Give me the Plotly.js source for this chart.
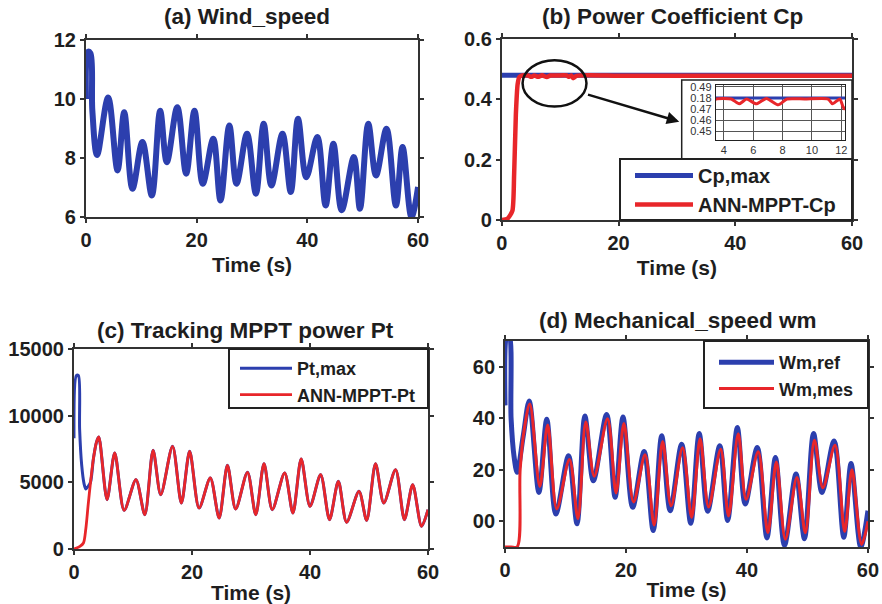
<!DOCTYPE html>
<html>
<head>
<meta charset="utf-8">
<script src="https://cdn.plot.ly/plotly-3.0.1.min.js"></script>
<style>html,body{margin:0;padding:0;background:#fff;}#chart{width:882px;height:604px;}</style>
</head>
<body>
<div id="chart"></div>
<script>
// ---------- (a) Wind speed ----------
const windT = [0, 0.35, 0.8, 1.15, 2.0, 4.0, 5.7, 6.9, 8.4, 10.2, 11.9, 13.4, 14.6, 16.5, 18.1, 19.6, 21.1, 23.0, 24.3, 25.9, 27.2, 29.1, 30.7, 32.1, 33.5, 35.5, 37.0, 38.3, 39.8, 41.8, 43.3, 44.7, 46.2, 48.4, 49.5, 51.0, 52.4, 54.3, 56.0, 57.2, 58.8, 60];
const windV = [10.0, 11.6, 11.55, 9.6, 8.1, 10.05, 7.58, 9.55, 6.96, 8.54, 6.73, 9.6, 7.86, 9.72, 7.47, 9.6, 7.13, 8.65, 6.56, 9.1, 7.13, 8.82, 6.79, 9.16, 7.07, 8.82, 6.85, 9.33, 7.35, 8.71, 6.39, 8.48, 6.23, 8.03, 6.28, 9.16, 7.41, 8.99, 6.39, 8.37, 6.0, 7.02];

// ---------- (b) Power coefficient ----------
const cpMaxT = [0, 60];
const cpMaxV = [0.48, 0.48];
const cpAnnT = [0, 1.0, 1.8, 2.1, 2.4, 2.7, 3.0, 3.46, 4.5, 5.04, 5.55, 6.2, 6.9, 7.7, 8.3, 9.5, 11.1, 11.4, 11.9, 12.2, 12.8, 20, 30, 40, 50, 60];
const cpAnnV = [0, 0.005, 0.03, 0.15, 0.35, 0.45, 0.474, 0.479, 0.479, 0.4747, 0.479, 0.4747, 0.4795, 0.4738, 0.479, 0.479, 0.479, 0.4747, 0.479, 0.4703, 0.478, 0.478, 0.478, 0.478, 0.478, 0.478];
const insetXTicks = [4, 6, 8, 10, 12];
const insetYTicks = [0.45, 0.46, 0.47, 0.48, 0.49];
const insetYText = ['0.45', '0.46', '0.47', '0.18', '0.49'];

// ---------- (c) Tracking MPPT power ----------
const ptAnnT = [0, 1.0, 1.6, 2.0, 2.4, 2.8, 3.3, 3.8, 4.2, 5.6, 6.9, 8.5, 10.5, 12.0, 13.4, 14.7, 16.7, 18.2, 19.6, 21.2, 23.1, 24.6, 26.0, 27.4, 29.4, 30.8, 32.2, 33.6, 35.7, 37.1, 38.5, 40.0, 41.8, 43.3, 44.8, 46.2, 48.3, 49.6, 51.1, 52.5, 54.5, 56.0, 57.4, 58.9, 60];
const ptAnnV = [0, 200, 450, 1500, 3300, 5000, 6800, 8000, 8400, 3700, 7200, 2900, 5200, 2575, 7400, 4075, 7700, 3450, 7325, 3075, 5325, 2325, 6275, 3000, 5750, 2575, 6400, 2950, 5700, 2700, 6750, 3200, 5575, 2200, 5075, 2000, 4325, 2150, 6400, 3450, 5950, 2200, 4825, 1700, 2950];
const ptMaxHeadT = [0, 0.4, 0.75, 0.95, 1.3, 1.7, 2.0, 2.4];
const ptMaxHeadV = [8300, 13000, 13000, 9000, 6300, 4900, 4500, 4700];
const ptTicks = [0, 5000, 10000, 15000];

// ---------- (d) Mechanical speed ----------
const wmRefT = [0, 0.35, 0.7, 1.0, 1.5, 2.0, 3.0, 4.0, 5.6, 6.9, 8.4, 10.5, 11.9, 13.2, 14.6, 16.8, 18.2, 19.5, 21.1, 23.0, 24.5, 25.9, 27.3, 29.2, 30.7, 32.1, 33.5, 35.5, 36.8, 38.4, 39.7, 41.7, 43.3, 44.7, 46.2, 48.1, 49.5, 51.0, 52.4, 54.4, 56.0, 57.2, 58.8, 60];
const wmRefV = [45, 72, 72, 40, 25, 19, 33, 46.7, 11.2, 39.6, 2.8, 25.4, -1.0, 40.9, 15.7, 41.5, 9.3, 40.5, 5.4, 27.1, -3.6, 33.2, 4.1, 29.9, -0.8, 34.1, 3.9, 29.3, 0.3, 36.4, 6.7, 28.6, -6.5, 24.8, -9.4, 18.3, -6.8, 34.1, 11.2, 31.2, -6.2, 22.4, -10, 4.1];
const wmMesT = [0, 1.0, 2.0, 2.5, 3.2, 4.1, 5.75, 7.05, 8.55, 10.65, 12.05, 13.35, 14.75, 16.95, 18.35, 19.65, 21.25, 23.15, 24.65, 26.05, 27.45, 29.35, 30.85, 32.25, 33.65, 35.65, 36.95, 38.55, 39.85, 41.85, 43.45, 44.85, 46.35, 48.25, 49.65, 51.15, 52.55, 54.55, 56.15, 57.35, 58.95, 60];
const wmMesV = [-10, -10, -10, 20, 36, 45.5, 13.5, 37.4, 4.8, 24.0, 1.0, 38.5, 17.5, 39.8, 11.0, 38.0, 7.5, 25.8, -1.5, 31.0, 6.0, 28.5, 1.5, 32.0, 5.5, 28.0, 2.0, 34.0, 8.5, 27.0, -4.5, 23.0, -7.0, 17.0, -4.5, 31.5, 13.0, 29.5, -4.0, 20.0, -9.0, 0];
const wmTickVals = [0, 20, 40, 60];
const wmTickText = ['00', '20', '40', '60'];

const timeTicks = [0, 20, 40, 60];

const BLUE = '#2c3fae';
const RED = '#e8262a';
const FONT = 'Liberation Sans, Arial, sans-serif';
const INK = '#1e1e1e';
const W = 882, H = 604;
const px = v => v / W;
const py = v => 1 - v / H;

// Pt,max: transient head, then joins the ANN curve
const joinIdx = ptAnnT.indexOf(2.8);
const ptMaxT = ptMaxHeadT.concat(ptAnnT.slice(joinIdx));
const ptMaxV = ptMaxHeadV.concat(ptAnnV.slice(joinIdx));

const traces = [
  {x: windT, y: windV, xaxis: 'x', yaxis: 'y', type: 'scatter', mode: 'lines',
   line: {color: BLUE, width: 6, shape: 'spline', smoothing: 1}, showlegend: false, name: 'Wind_speed'},

  {x: cpMaxT, y: cpMaxV, xaxis: 'x2', yaxis: 'y2', type: 'scatter', mode: 'lines',
   line: {color: BLUE, width: 5}, name: 'Cp,max', legend: 'legend'},
  {x: cpAnnT, y: cpAnnV, xaxis: 'x2', yaxis: 'y2', type: 'scatter', mode: 'lines',
   line: {color: RED, width: 4.5, shape: 'spline', smoothing: 0.6}, name: 'ANN-MPPT-Cp', legend: 'legend'},
  {x: cpMaxT, y: cpMaxV, xaxis: 'x5', yaxis: 'y5', type: 'scatter', mode: 'lines',
   line: {color: BLUE, width: 3}, showlegend: false},
  {x: cpAnnT, y: cpAnnV, xaxis: 'x5', yaxis: 'y5', type: 'scatter', mode: 'lines',
   line: {color: RED, width: 3, shape: 'spline', smoothing: 0.6}, showlegend: false},

  {x: ptMaxT, y: ptMaxV, xaxis: 'x3', yaxis: 'y3', type: 'scatter', mode: 'lines',
   line: {color: BLUE, width: 3, shape: 'spline', smoothing: 0.8}, name: 'Pt,max', legend: 'legend2'},
  {x: ptAnnT, y: ptAnnV, xaxis: 'x3', yaxis: 'y3', type: 'scatter', mode: 'lines',
   line: {color: RED, width: 2.8, shape: 'spline', smoothing: 0.8}, name: 'ANN-MPPT-Pt', legend: 'legend2'},

  {x: wmRefT, y: wmRefV, xaxis: 'x4', yaxis: 'y4', type: 'scatter', mode: 'lines',
   line: {color: BLUE, width: 5, shape: 'spline', smoothing: 0.9}, name: 'Wm,ref', legend: 'legend3'},
  {x: wmMesT, y: wmMesV, xaxis: 'x4', yaxis: 'y4', type: 'scatter', mode: 'lines',
   line: {color: RED, width: 3, shape: 'spline', smoothing: 0.9}, name: 'Wm,mes', legend: 'legend3'}
];

const tickFont = {family: FONT, size: 20, color: INK, weight: 'bold'};
const titleFont = {family: FONT, size: 21, color: INK, weight: 'bold'};
const headFont = {family: FONT, size: 22.5, color: INK, weight: 'bold'};
const insetFont = {family: FONT, size: 11, color: '#333'};

function baseAxis(extra) {
  return Object.assign({
    showline: true, mirror: 'ticks', linewidth: 2, linecolor: '#333',
    ticks: 'outside', ticklen: 4, tickwidth: 2, tickcolor: '#333',
    showgrid: false, zeroline: false, tickfont: tickFont, fixedrange: true
  }, extra);
}
function timeAxis(domain, anchor, standoff) {
  return baseAxis({domain: domain, anchor: anchor, range: [0, 60], tickvals: timeTicks,
    title: {text: 'Time (s)', font: titleFont, standoff: standoff}});
}
function legendBox(x0, x1, y0, y1) {
  return {type: 'rect', xref: 'paper', yref: 'paper', x0: px(x0), x1: px(x1), y0: py(y1), y1: py(y0),
    line: {color: '#222', width: 2}, fillcolor: 'rgba(0,0,0,0)', layer: 'above'};
}
function legendOpts(x, y, size, iw) {
  return {x: px(x), y: py(y), xanchor: 'left', yanchor: 'top', bgcolor: 'rgba(0,0,0,0)', borderwidth: 0,
    font: {family: FONT, size: size, color: INK, weight: 'bold'}, itemwidth: iw};
}

const layout = {
  width: W, height: H,
  margin: {l: 0, r: 0, t: 0, b: 0},
  paper_bgcolor: '#ffffff',
  plot_bgcolor: 'rgba(0,0,0,0)',
  font: {family: FONT, color: INK},
  xaxis: timeAxis([0.0975, 0.474], 'y', 7),
  yaxis: baseAxis({domain: [0.6407, 0.9338], anchor: 'x', range: [6, 12], dtick: 2}),
  xaxis2: timeAxis([0.569, 0.966], 'y2', 7),
  yaxis2: baseAxis({domain: [0.6358, 0.9354], anchor: 'x2', range: [0, 0.6], dtick: 0.2}),
  xaxis3: timeAxis([0.0839, 0.4853], 'y3', 10),
  yaxis3: baseAxis({domain: [0.0911, 0.4222], anchor: 'x3', range: [0, 15000], tickvals: ptTicks, tickformat: 'd'}),
  xaxis4: timeAxis([0.5726, 0.9841], 'y4', 2),
  yaxis4: baseAxis({domain: [0.0944, 0.4354], anchor: 'x4', range: [-10, 70], tickvals: wmTickVals, ticktext: wmTickText}),
  xaxis5: {domain: [0.8118, 0.958], anchor: 'y5', range: [3.46, 12.25], tickvals: insetXTicks,
    showline: true, mirror: true, linewidth: 1.2, linecolor: '#222', ticks: '', showgrid: true,
    gridcolor: '#555', gridwidth: 1, zeroline: false, tickfont: insetFont, fixedrange: true},
  yaxis5: {domain: [0.7682, 0.8593], anchor: 'x5', range: [0.4425, 0.4915], tickvals: insetYTicks, ticktext: insetYText,
    showline: true, mirror: true, linewidth: 1.2, linecolor: '#222', ticks: '', showgrid: true,
    gridcolor: '#555', gridwidth: 1, zeroline: false, tickfont: insetFont, fixedrange: true, ticklabelstandoff: 1},
  legend: legendOpts(630, 156, 20, 58),
  legend2: legendOpts(235, 350, 18, 52),
  legend3: legendOpts(714, 344, 18, 55),
  shapes: [
    {type: 'rect', xref: 'paper', yref: 'paper', x0: px(681.7), x1: px(852), y0: py(159), y1: py(80),
     line: {color: '#222', width: 1.5}, fillcolor: 'rgba(0,0,0,0)', layer: 'above'},
    legendBox(620, 852, 159, 220),
    legendBox(229, 428, 349, 408),
    legendBox(704, 868, 341, 408),
    {type: 'circle', xref: 'x2', yref: 'y2', x0: 3.55, x1: 14.5, y0: 0.376, y1: 0.530,
     line: {color: '#111', width: 2.5}, layer: 'above'}
  ],
  annotations: [
    {text: '(a) Wind_speed', xref: 'paper', yref: 'paper', x: px(247), y: py(17), xanchor: 'center', yanchor: 'middle',
     showarrow: false, font: headFont},
    {text: '(b) Power Coefficient Cp', xref: 'paper', yref: 'paper', x: px(672), y: py(17), xanchor: 'center', yanchor: 'middle',
     showarrow: false, font: headFont},
    {text: '(c) Tracking MPPT power Pt', xref: 'paper', yref: 'paper', x: px(246), y: py(330), xanchor: 'center', yanchor: 'middle',
     showarrow: false, font: headFont},
    {text: '(d) Mechanical_speed wm', xref: 'paper', yref: 'paper', x: px(678), y: py(320), xanchor: 'center', yanchor: 'middle',
     showarrow: false, font: headFont},
    {text: '', xref: 'x2', yref: 'y2', x: 30.4, y: 0.326, axref: 'x2', ayref: 'y2', ax: 14.5, ay: 0.417,
     showarrow: true, arrowhead: 2, arrowsize: 1, arrowwidth: 2.5, arrowcolor: '#111'}
  ]
};

Plotly.newPlot('chart', traces, layout, {staticPlot: true, displayModeBar: false});
</script>
</body>
</html>
